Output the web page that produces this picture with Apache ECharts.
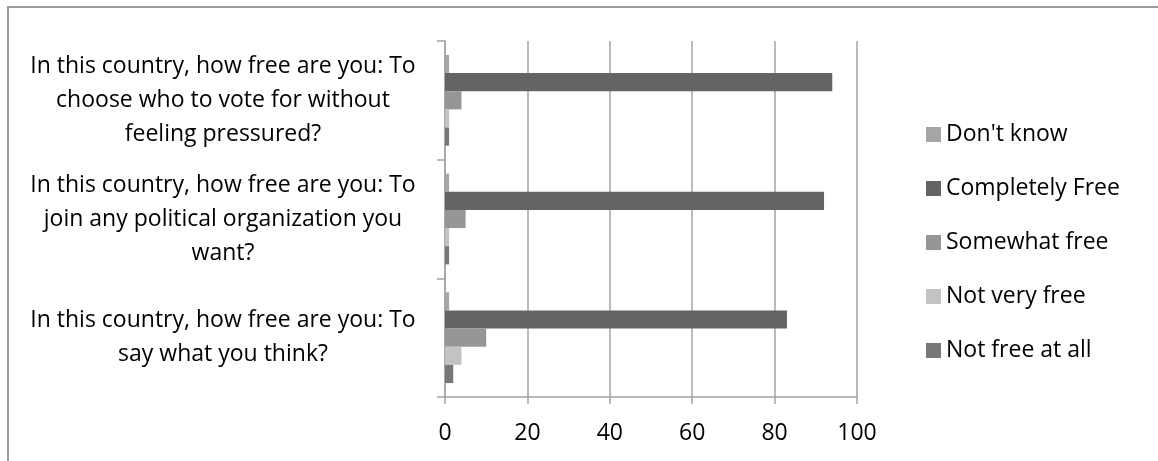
<!DOCTYPE html>
<html>
<head>
<meta charset="utf-8">
<script src="https://cdn.jsdelivr.net/npm/echarts@6/dist/echarts.min.js"></script>
<style>
  html, body { margin: 0; padding: 0; background: #fff; }
  #chart { width: 1158px; height: 461px; }
</style>
</head>
<body>
<div id="chart"></div>
<script>
// Survey questions, listed top to bottom
const questions = [
  "In this country, how free are you: To\nchoose who to vote for without\nfeeling pressured?",
  "In this country, how free are you: To\njoin any political organization you\nwant?",
  "In this country, how free are you: To\nsay what you think?"
];

// Response shares (%) per question, same order as questions
const dontKnow       = [1, 1, 1];
const completelyFree = [94, 92, 83];
const somewhatFree   = [4, 5, 10];
const notVeryFree    = [1, 1, 4];
const notFreeAtAll   = [1, 1, 2];

const xTicks = [0, 20, 40, 60, 80, 100];

const seriesDefs = [
  { name: "Don't know",      data: dontKnow,       color: '#a6a6a6' },
  { name: 'Completely Free', data: completelyFree, color: '#646464' },
  { name: 'Somewhat free',   data: somewhatFree,   color: '#969696' },
  { name: 'Not very free',   data: notVeryFree,    color: '#c3c3c3' },
  { name: 'Not free at all', data: notFreeAtAll,   color: '#777777' }
];

const FONT = '"Open Sans", "Noto Sans", sans-serif';
const GRID = '#a3a3a3';

const chart = echarts.init(document.getElementById('chart'), null, { renderer: 'canvas' });

chart.setOption({
  animation: false,
  backgroundColor: '#ffffff',
  textStyle: { fontFamily: FONT, color: '#000' },
  // chart frame
  graphic: [{
    type: 'polyline',
    shape: { points: [[8, 461], [8, 7], [1158, 7]] },
    style: { stroke: '#9c9c9c', lineWidth: 2, fill: null },
    silent: true
  }],
  grid: {
    left: 445, top: 41, width: 412, height: 356,
    containLabel: false, outerBoundsMode: 'none'
  },
  legend: {
    orient: 'vertical',
    left: 921, top: 118,
    itemWidth: 15, itemHeight: 15, itemGap: 31,
    icon: 'rect',
    data: seriesDefs.map(s => s.name),
    textStyle: { fontFamily: FONT, fontSize: 23, color: '#000', lineHeight: 23 }
  },
  xAxis: {
    type: 'value',
    min: xTicks[0], max: xTicks[xTicks.length - 1], interval: xTicks[1] - xTicks[0],
    axisLine: { show: true, lineStyle: { color: GRID, width: 1.5 } },
    axisTick: { show: true, length: 7, lineStyle: { color: GRID, width: 1.5 } },
    splitLine: { show: true, lineStyle: { color: GRID, width: 1.5 } },
    axisLabel: { fontFamily: FONT, fontSize: 23, color: '#000', margin: 25 }
  },
  yAxis: {
    type: 'category',
    inverse: true,
    data: questions,
    axisLine: { show: true, lineStyle: { color: GRID, width: 1.5 } },
    axisTick: { show: true, length: 8, lineStyle: { color: GRID, width: 1.5 } },
    axisLabel: {
      fontFamily: FONT, fontSize: 23, color: '#000',
      align: 'center', verticalAlign: 'middle', lineHeight: 34, margin: 222
    }
  },
  series: seriesDefs.map(s => ({
    name: s.name,
    type: 'bar',
    data: s.data,
    barGap: '0%',
    barCategoryGap: '23.5%',
    itemStyle: { color: s.color }
  }))
});
</script>
</body>
</html>
